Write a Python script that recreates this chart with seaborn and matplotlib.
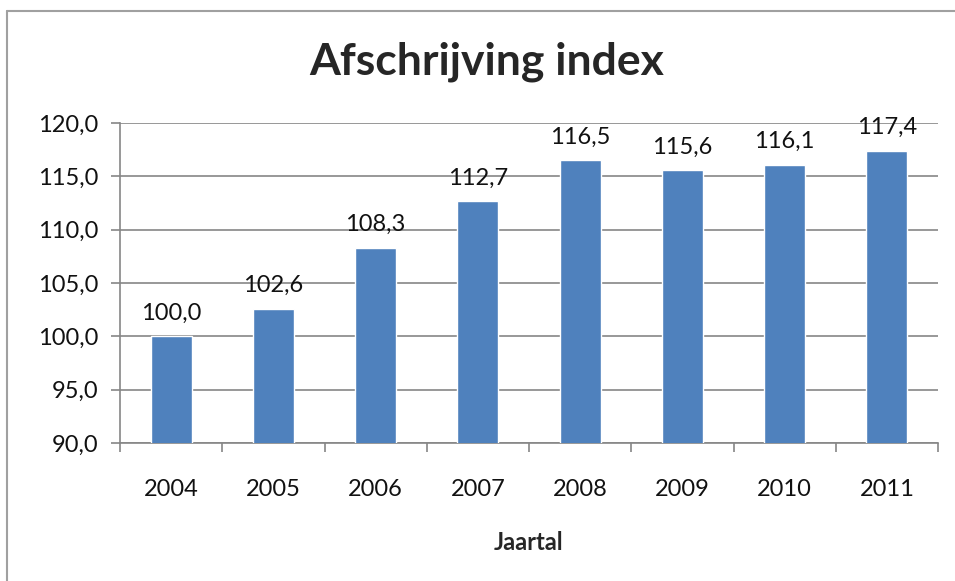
import matplotlib
matplotlib.use("Agg")
import matplotlib.pyplot as plt
from matplotlib.lines import Line2D
import seaborn as sns
import pandas as pd

# Depreciation index per year
years = ["2004", "2005", "2006", "2007", "2008", "2009", "2010", "2011"]
index_values = [100.0, 102.6, 108.3, 112.7, 116.5, 115.6, 116.1, 117.4]
y_ticks = [90, 95, 100, 105, 110, 115, 120]

df = pd.DataFrame({"Jaartal": years, "Index": index_values})

sns.set_theme(style="white")
plt.rcParams["font.family"] = ["Lato", "DejaVu Sans"]

def nl(v):
    return f"{v:.1f}".replace(".", ",")

fig = plt.figure(figsize=(9.55, 5.81), dpi=100)
ax = fig.add_axes([120 / 955, 1 - 443 / 581, (938 - 120) / 955, (443 - 123) / 581])

grey = "#868686"
sns.barplot(data=df, x="Jaartal", y="Index", color="#4F81BD", width=0.4,
            saturation=1, ax=ax, zorder=3)

ax.set_ylim(90, 120)
ax.set_yticks(y_ticks)
ax.set_yticklabels([nl(t) for t in y_ticks])
ax.set_xlim(-0.5, len(years) - 0.5)
ax.yaxis.grid(True, color=grey, linewidth=1.2, zorder=0)
ax.set_axisbelow(True)

for s in ["top", "right"]:
    ax.spines[s].set_visible(False)
for s in ["left", "bottom"]:
    ax.spines[s].set_color(grey)
    ax.spines[s].set_linewidth(1.2)

ax.tick_params(axis="y", length=6.5, width=1.2, color=grey, direction="out",
               pad=9, labelsize=17, labelcolor="#111111", left=True)
ax.tick_params(axis="x", which="major", length=0, pad=26, labelsize=17,
               labelcolor="#111111")
ax.set_xticks([i - 0.5 for i in range(len(years) + 1)], minor=True)
ax.tick_params(axis="x", which="minor", length=6.5, width=1.2, color=grey,
               direction="out", bottom=True)

ax.bar_label(ax.containers[0], labels=[nl(v) for v in index_values],
             padding=9, fontsize=17, color="#111111")

ax.set_ylabel("")
ax.set_xlabel("Jaartal", fontsize=17, fontweight="bold", labelpad=22)

fig.text(487 / 955, 1 - 62 / 581, "Afschrijving index", ha="center", va="center",
         fontsize=32, fontweight="bold")

# chart frame
fig.add_artist(Line2D([7 / 955, 7 / 955], [0, 1 - 11 / 581], color="#a0a0a0",
                      linewidth=1.5, transform=fig.transFigure))
fig.add_artist(Line2D([7 / 955, 1], [1 - 11 / 581, 1 - 11 / 581], color="#a0a0a0",
                      linewidth=1.5, transform=fig.transFigure))

fig.savefig("out.png", dpi=100)
